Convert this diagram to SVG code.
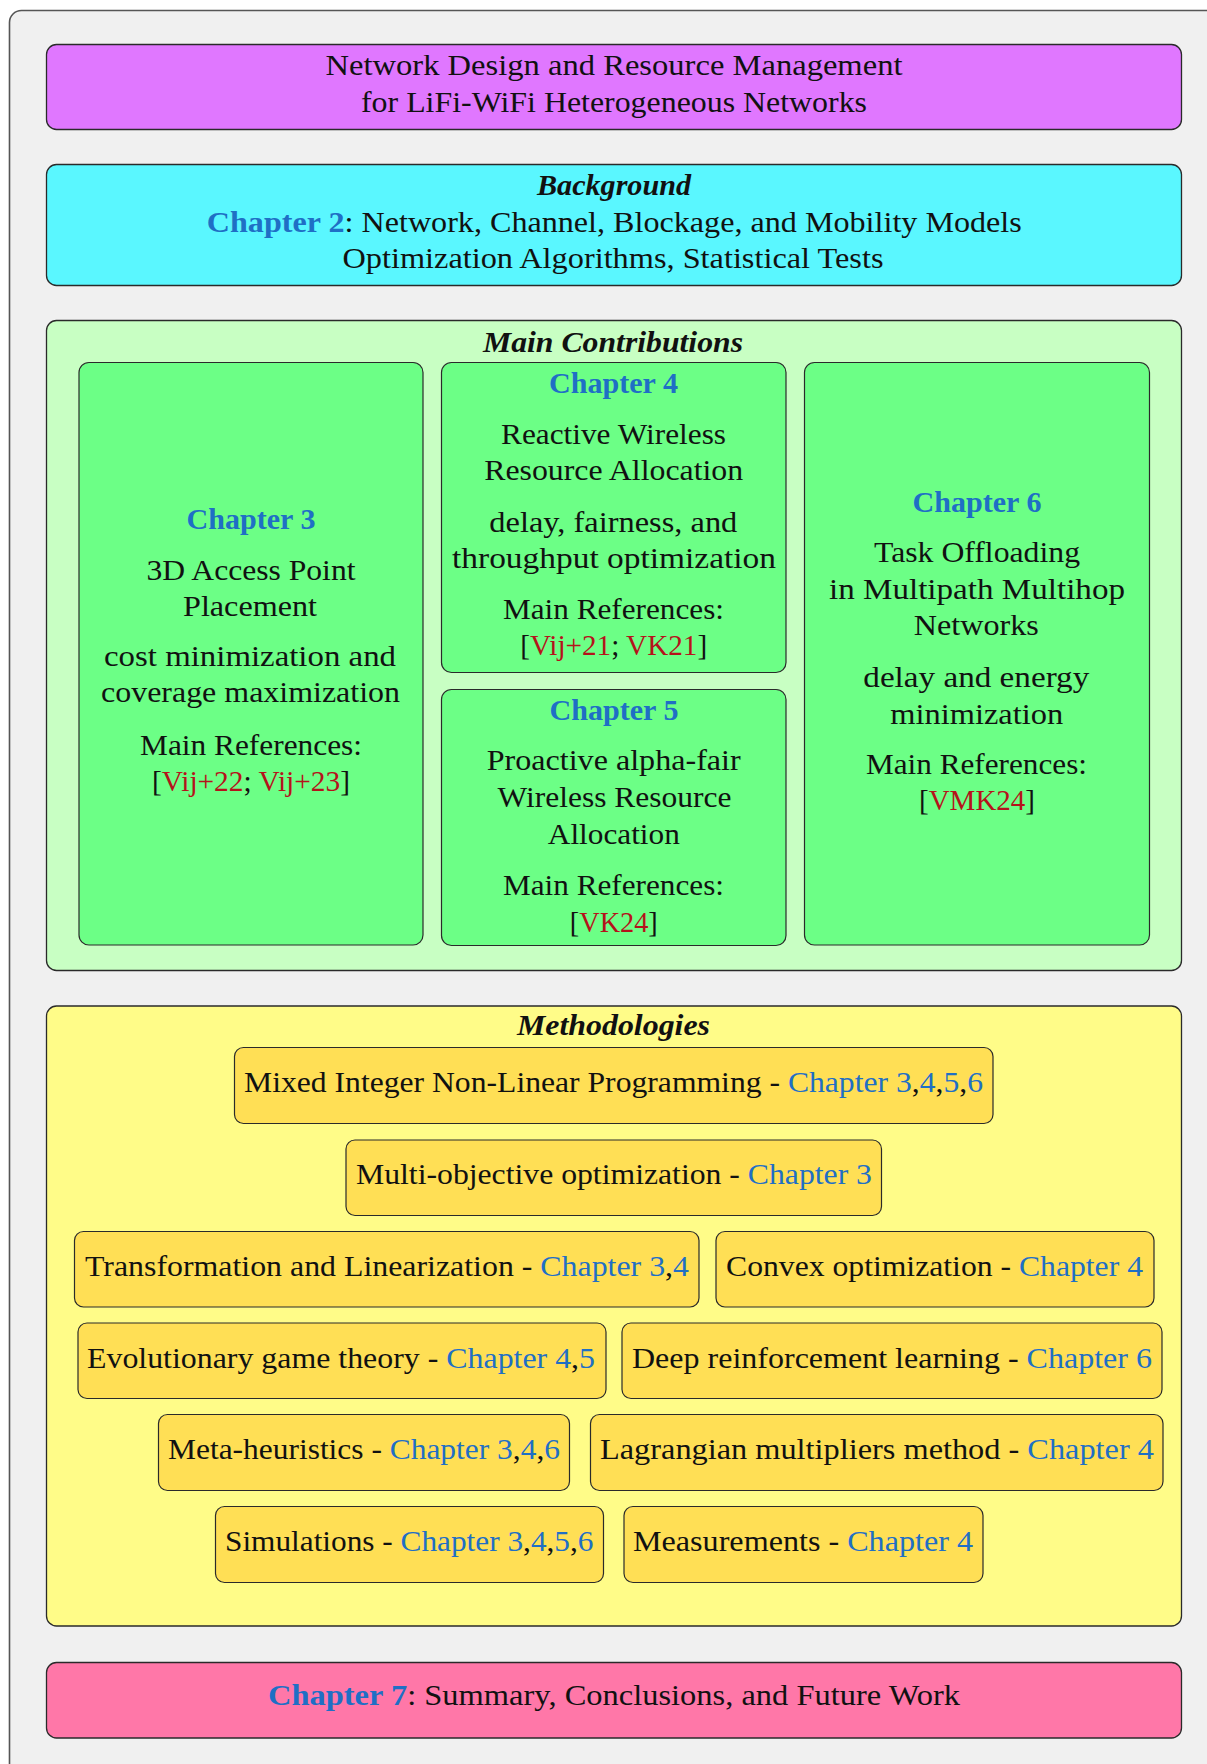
<svg xmlns="http://www.w3.org/2000/svg" width="1207" height="1764" viewBox="0 0 1207 1764">
<style>
.t{font-family:"Liberation Serif","Times New Roman",serif;font-size:29px;fill:#111;text-anchor:middle}
.l{text-anchor:start}
.b{font-weight:bold;fill:#1F6FC5}
.c{fill:#1F6FC5}
.r{fill:#B5121B}
.h{font-weight:bold;font-style:italic}
.box{stroke:#2a2a2a;stroke-width:1.3}
.m{fill:#FFDF55;stroke:#2a2a2a;stroke-width:1.2}
.g{fill:#6CFF86;stroke:#2a2a2a;stroke-width:1.2}
</style>
<rect width="1207" height="1764" fill="#ffffff"/>
<rect id="frame" x="9.5" y="10.5" width="1260" height="1820" rx="12" fill="#F0F0F0" stroke="#555" stroke-width="1.6"/>

<g id="title">
<rect class="box" x="46.5" y="44.5" width="1135" height="85" rx="10" fill="#E077FF"/>
<text class="t" x="614" y="75" textLength="577" lengthAdjust="spacingAndGlyphs">Network Design and Resource Management</text>
<text class="t" x="614" y="111.5" textLength="506" lengthAdjust="spacingAndGlyphs">for LiFi-WiFi Heterogeneous Networks</text>
</g>

<g id="background">
<rect class="box" x="46.5" y="164.5" width="1135" height="121" rx="10" fill="#5AF7FF"/>
<text class="t h" x="614" y="195" textLength="154" lengthAdjust="spacingAndGlyphs">Background</text>
<text class="t" x="614.3" y="232" textLength="815" lengthAdjust="spacingAndGlyphs"><tspan class="b">Chapter 2</tspan>: Network, Channel, Blockage, and Mobility Models</text>
<text class="t" x="613" y="268" textLength="541" lengthAdjust="spacingAndGlyphs">Optimization Algorithms, Statistical Tests</text>
</g>

<g id="contributions">
<rect class="box" x="46.5" y="320.5" width="1135" height="650" rx="10" fill="#C8FFC3"/>
<text class="t h" x="613" y="351.5" textLength="260" lengthAdjust="spacingAndGlyphs">Main Contributions</text>
</g>

<g id="chapter3">
<rect class="g" x="79" y="362.5" width="344" height="582.5" rx="10"/>
<text class="t b" x="251" y="528.5" textLength="129" lengthAdjust="spacingAndGlyphs">Chapter 3</text>
<text class="t" x="251" y="580" textLength="209" lengthAdjust="spacingAndGlyphs">3D Access Point</text>
<text class="t" x="250" y="616" textLength="134" lengthAdjust="spacingAndGlyphs">Placement</text>
<text class="t" x="250" y="666" textLength="292" lengthAdjust="spacingAndGlyphs">cost minimization and</text>
<text class="t" x="250.5" y="702" textLength="299" lengthAdjust="spacingAndGlyphs">coverage maximization</text>
<text class="t" x="251" y="754.5" textLength="222" lengthAdjust="spacingAndGlyphs">Main References:</text>
<text class="t" x="251" y="791" textLength="198" lengthAdjust="spacingAndGlyphs">[<tspan class="r">Vij+22</tspan>; <tspan class="r">Vij+23</tspan>]</text>
</g>

<g id="chapter4">
<rect class="g" x="441.5" y="362.5" width="344.5" height="310" rx="10"/>
<text class="t b" x="613.5" y="392.5" textLength="129" lengthAdjust="spacingAndGlyphs">Chapter 4</text>
<text class="t" x="613.5" y="443.5" textLength="225" lengthAdjust="spacingAndGlyphs">Reactive Wireless</text>
<text class="t" x="613.7" y="480" textLength="259" lengthAdjust="spacingAndGlyphs">Resource Allocation</text>
<text class="t" x="613.3" y="531.5" textLength="248" lengthAdjust="spacingAndGlyphs">delay, fairness, and</text>
<text class="t" x="614" y="567.5" textLength="324" lengthAdjust="spacingAndGlyphs">throughput optimization</text>
<text class="t" x="613.5" y="618.5" textLength="221" lengthAdjust="spacingAndGlyphs">Main References:</text>
<text class="t" x="613.7" y="655" textLength="187" lengthAdjust="spacingAndGlyphs">[<tspan class="r">Vij+21</tspan>; <tspan class="r">VK21</tspan>]</text>
</g>

<g id="chapter5">
<rect class="g" x="441.5" y="689.5" width="344.5" height="256" rx="10"/>
<text class="t b" x="614" y="720" textLength="129" lengthAdjust="spacingAndGlyphs">Chapter 5</text>
<text class="t" x="613.7" y="770" textLength="254" lengthAdjust="spacingAndGlyphs">Proactive alpha-fair</text>
<text class="t" x="614.5" y="806.5" textLength="234" lengthAdjust="spacingAndGlyphs">Wireless Resource</text>
<text class="t" x="613.8" y="843.5" textLength="132" lengthAdjust="spacingAndGlyphs">Allocation</text>
<text class="t" x="613.5" y="894.5" textLength="221" lengthAdjust="spacingAndGlyphs">Main References:</text>
<text class="t" x="613.8" y="931.5" textLength="88" lengthAdjust="spacingAndGlyphs">[<tspan class="r">VK24</tspan>]</text>
</g>

<g id="chapter6">
<rect class="g" x="804.5" y="362.5" width="345" height="582.5" rx="10"/>
<text class="t b" x="977" y="511.5" textLength="129" lengthAdjust="spacingAndGlyphs">Chapter 6</text>
<text class="t" x="977" y="561.5" textLength="206" lengthAdjust="spacingAndGlyphs">Task Offloading</text>
<text class="t" x="977" y="598.5" textLength="296" lengthAdjust="spacingAndGlyphs">in Multipath Multihop</text>
<text class="t" x="976.3" y="635" textLength="125" lengthAdjust="spacingAndGlyphs">Networks</text>
<text class="t" x="976.3" y="686.5" textLength="226" lengthAdjust="spacingAndGlyphs">delay and energy</text>
<text class="t" x="976.7" y="723.5" textLength="173" lengthAdjust="spacingAndGlyphs">minimization</text>
<text class="t" x="976.5" y="773.5" textLength="221" lengthAdjust="spacingAndGlyphs">Main References:</text>
<text class="t" x="977" y="810" textLength="116" lengthAdjust="spacingAndGlyphs">[<tspan class="r">VMK24</tspan>]</text>
</g>

<g id="methodologies">
<rect class="box" x="46.5" y="1006" width="1135" height="620" rx="10" fill="#FFFC88"/>
<text class="t h" x="613.5" y="1035" textLength="193" lengthAdjust="spacingAndGlyphs">Methodologies</text>
</g>

<g id="m-minlp">
<rect class="m" x="234.5" y="1047.5" width="758.5" height="76" rx="9"/>
<text class="t l" x="244" y="1092" textLength="739" lengthAdjust="spacingAndGlyphs">Mixed Integer Non-Linear Programming - <tspan class="c">Chapter 3</tspan>,<tspan class="c">4</tspan>,<tspan class="c">5</tspan>,<tspan class="c">6</tspan></text>
</g>
<g id="m-multiobj">
<rect class="m" x="346" y="1140" width="535.5" height="75.5" rx="9"/>
<text class="t l" x="356" y="1184" textLength="516" lengthAdjust="spacingAndGlyphs">Multi-objective optimization - <tspan class="c">Chapter 3</tspan></text>
</g>
<g id="m-transform">
<rect class="m" x="74.5" y="1231.5" width="624.5" height="75.5" rx="9"/>
<text class="t l" x="85" y="1276" textLength="604" lengthAdjust="spacingAndGlyphs">Transformation and Linearization - <tspan class="c">Chapter 3</tspan>,<tspan class="c">4</tspan></text>
</g>
<g id="m-convex">
<rect class="m" x="716" y="1231.5" width="438" height="75.5" rx="9"/>
<text class="t l" x="726" y="1276" textLength="417" lengthAdjust="spacingAndGlyphs">Convex optimization - <tspan class="c">Chapter 4</tspan></text>
</g>
<g id="m-evo">
<rect class="m" x="78" y="1323" width="528" height="75.5" rx="9"/>
<text class="t l" x="87" y="1367.5" textLength="508" lengthAdjust="spacingAndGlyphs">Evolutionary game theory - <tspan class="c">Chapter 4</tspan>,<tspan class="c">5</tspan></text>
</g>
<g id="m-drl">
<rect class="m" x="622" y="1323" width="540" height="75.5" rx="9"/>
<text class="t l" x="632" y="1367.5" textLength="520" lengthAdjust="spacingAndGlyphs">Deep reinforcement learning - <tspan class="c">Chapter 6</tspan></text>
</g>
<g id="m-meta">
<rect class="m" x="158.5" y="1414.5" width="411" height="76" rx="9"/>
<text class="t l" x="168" y="1459" textLength="392" lengthAdjust="spacingAndGlyphs">Meta-heuristics - <tspan class="c">Chapter 3</tspan>,<tspan class="c">4</tspan>,<tspan class="c">6</tspan></text>
</g>
<g id="m-lagr">
<rect class="m" x="590.5" y="1414.5" width="572.5" height="76" rx="9"/>
<text class="t l" x="600" y="1459" textLength="554" lengthAdjust="spacingAndGlyphs">Lagrangian multipliers method - <tspan class="c">Chapter 4</tspan></text>
</g>
<g id="m-sim">
<rect class="m" x="215.5" y="1506.5" width="388" height="76" rx="9"/>
<text class="t l" x="225" y="1551" textLength="368.5" lengthAdjust="spacingAndGlyphs">Simulations - <tspan class="c">Chapter 3</tspan>,<tspan class="c">4</tspan>,<tspan class="c">5</tspan>,<tspan class="c">6</tspan></text>
</g>
<g id="m-meas">
<rect class="m" x="624" y="1506.5" width="359" height="76" rx="9"/>
<text class="t l" x="633" y="1551" textLength="340" lengthAdjust="spacingAndGlyphs">Measurements - <tspan class="c">Chapter 4</tspan></text>
</g>

<g id="chapter7">
<rect class="box" x="46.5" y="1662.5" width="1135" height="75.5" rx="10" fill="#FF77A8"/>
<text class="t" x="614" y="1705" textLength="692" lengthAdjust="spacingAndGlyphs"><tspan class="b">Chapter 7</tspan>: Summary, Conclusions, and Future Work</text>
</g>

<g id="connectors"/>
</svg>
